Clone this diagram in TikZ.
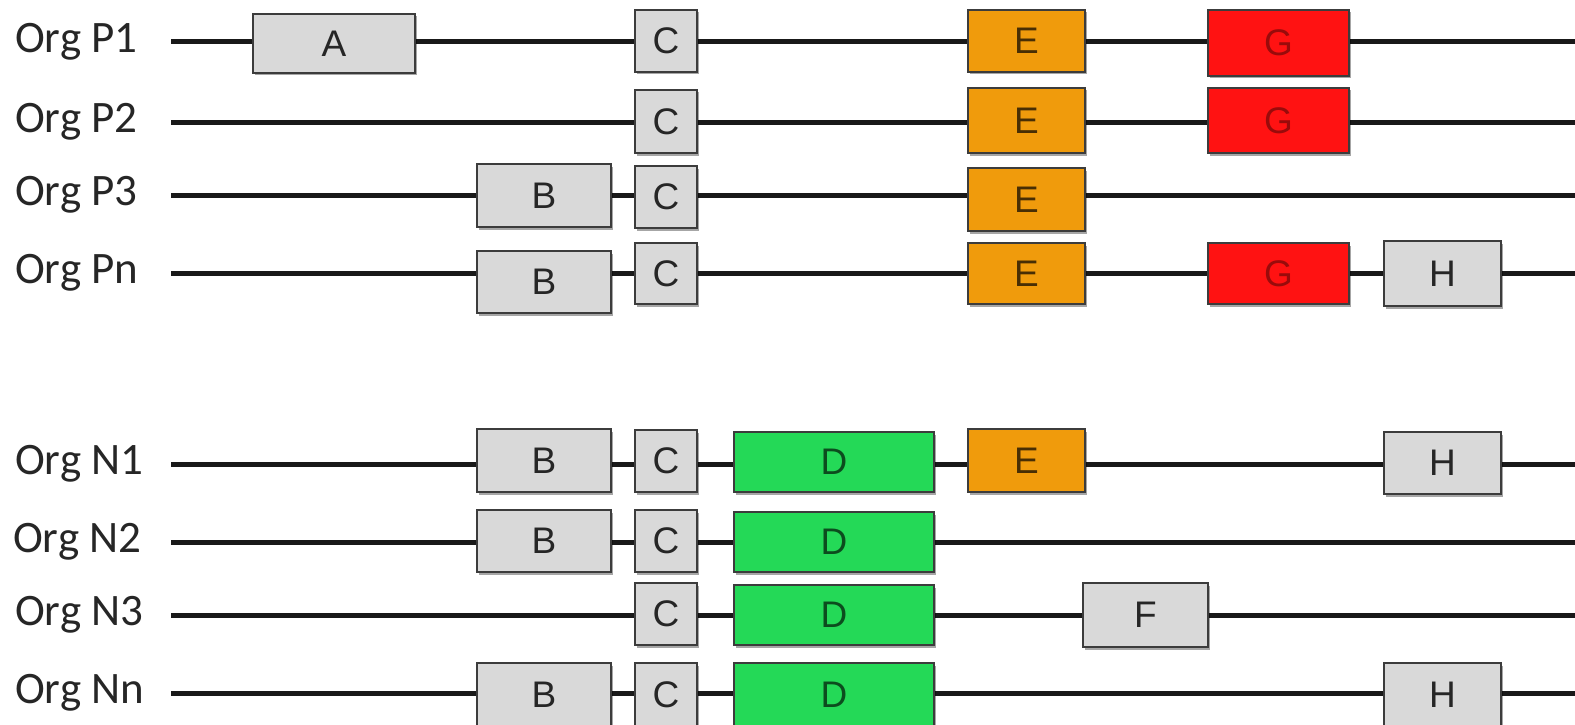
\documentclass[tikz,border=0pt]{standalone}
\usepackage{fontspec}
\setmainfont{Carlito}
\newfontfamily\genefont{Liberation Sans}
\usetikzlibrary{shadows,backgrounds}

\definecolor{genegreyfill}{HTML}{D9D9D9}
\definecolor{geneorangefill}{HTML}{F09B0C}
\definecolor{generedfill}{HTML}{FF1212}
\definecolor{genegreenfill}{HTML}{24D957}
\definecolor{geneedge}{HTML}{3C3C3C}

\tikzset{
  orglabel/.style={anchor=west, inner sep=0pt, font=\fontsize{45}{50}\selectfont, text=black!85},
  strand/.style={line width=5pt, black!90},
  gene/.style={draw=geneedge, line width=2.2pt, inner sep=0pt, outer sep=0pt,
    font=\genefont\fontsize{37}{40}\selectfont,
    drop shadow={opacity=0.35, shadow xshift=2pt, shadow yshift=-2.5pt, fill=black}},
  ggrey/.style={gene, fill=genegreyfill, text=black!85},
  gorange/.style={gene, fill=geneorangefill, text=black!70!geneorangefill},
  gred/.style={gene, fill=generedfill, text=black!40!generedfill},
  ggreen/.style={gene, fill=genegreenfill, text=black!65!genegreenfill},
}

% \genebox{name}{x1}{x2}{y1}{y2}{style}{text}
\newcommand\genebox[7]{%
  \node[#6, minimum width={#3-#2}, minimum height={#5-#4}] (#1)
    at ({(#2+#3)/2},{(#4+#5)/2}) {#7};}

\begin{document}
\begin{tikzpicture}[x=1pt,y=-1pt]
\useasboundingbox (0,0) rectangle (1575,725);

% ---------- Org P1
\node[orglabel] (lp1) at (15,42) {Org P1};
\coordinate (p1s) at (171,42); \coordinate (p1e) at (1576,42);
\genebox{p1a}{253}{415}{14}{73}{ggrey}{A}
\genebox{p1c}{635}{697}{10}{72}{ggrey}{C}
\genebox{p1e5}{968}{1085}{10}{72}{gorange}{E}
\genebox{p1g}{1208}{1349}{10}{76}{gred}{G}

% ---------- Org P2
\node[orglabel] (lp2) at (15,122) {Org P2};
\coordinate (p2s) at (171,122); \coordinate (p2e) at (1576,122);
\genebox{p2c}{635}{697}{90}{153}{ggrey}{C}
\genebox{p2e5}{968}{1085}{88}{153}{gorange}{E}
\genebox{p2g}{1208}{1349}{88}{153}{gred}{G}

% ---------- Org P3
\node[orglabel] (lp3) at (15,195) {Org P3};
\coordinate (p3s) at (171,195); \coordinate (p3e) at (1576,195);
\genebox{p3b}{477}{611}{164}{227}{ggrey}{B}
\genebox{p3c}{635}{697}{166}{228}{ggrey}{C}
\genebox{p3e5}{968}{1085}{168}{231}{gorange}{E}

% ---------- Org Pn
\node[orglabel] (lpn) at (15,273) {Org Pn};
\coordinate (pns) at (171,273); \coordinate (pne) at (1576,273);
\genebox{pnb}{477}{611}{251}{313}{ggrey}{B}
\genebox{pnc}{635}{697}{243}{304}{ggrey}{C}
\genebox{pne5}{968}{1085}{243}{304}{gorange}{E}
\genebox{png}{1208}{1349}{243}{304}{gred}{G}
\genebox{pnh}{1384}{1501}{241}{306}{ggrey}{H}

% ---------- Org N1
\node[orglabel] (ln1) at (15,464) {Org N1};
\coordinate (n1s) at (171,464); \coordinate (n1e) at (1576,464);
\genebox{n1b}{477}{611}{429}{492}{ggrey}{B}
\genebox{n1c}{635}{697}{430}{492}{ggrey}{C}
\genebox{n1d}{734}{934}{432}{492}{ggreen}{D}
\genebox{n1e5}{968}{1085}{429}{492}{gorange}{E}
\genebox{n1h}{1384}{1501}{432}{494}{ggrey}{H}

% ---------- Org N2
\node[orglabel] (ln2) at (13,542) {Org N2};
\coordinate (n2s) at (171,542); \coordinate (n2e) at (1576,542);
\genebox{n2b}{477}{611}{510}{572}{ggrey}{B}
\genebox{n2c}{635}{697}{510}{572}{ggrey}{C}
\genebox{n2d}{734}{934}{512}{572}{ggreen}{D}

% ---------- Org N3
\node[orglabel] (ln3) at (15,615) {Org N3};
\coordinate (n3s) at (171,615); \coordinate (n3e) at (1576,615);
\genebox{n3c}{635}{697}{583}{645}{ggrey}{C}
\genebox{n3d}{734}{934}{585}{645}{ggreen}{D}
\genebox{n3f}{1083}{1208}{583}{647}{ggrey}{F}

% ---------- Org Nn
\node[orglabel] (lnn) at (15,693) {Org Nn};
\coordinate (nns) at (171,693); \coordinate (nne) at (1576,693);
\genebox{nnb}{477}{611}{663}{726}{ggrey}{B}
\genebox{nnc}{635}{697}{663}{726}{ggrey}{C}
\genebox{nnd}{734}{934}{663}{726}{ggreen}{D}
\genebox{nnh}{1384}{1501}{663}{726}{ggrey}{H}

% ---------- strands between the genes
\begin{scope}[on background layer]
\draw[strand] (p1s) -- (p1a.west |- p1s) (p1a.east |- p1s) -- (p1c.west |- p1s)
  (p1c.east |- p1s) -- (p1e5.west |- p1s) (p1e5.east |- p1s) -- (p1g.west |- p1s)
  (p1g.east |- p1s) -- (p1e);
\draw[strand] (p2s) -- (p2c.west |- p2s) (p2c.east |- p2s) -- (p2e5.west |- p2s)
  (p2e5.east |- p2s) -- (p2g.west |- p2s) (p2g.east |- p2s) -- (p2e);
\draw[strand] (p3s) -- (p3b.west |- p3s) (p3b.east |- p3s) -- (p3c.west |- p3s)
  (p3c.east |- p3s) -- (p3e5.west |- p3s) (p3e5.east |- p3s) -- (p3e);
\draw[strand] (pns) -- (pnb.west |- pns) (pnb.east |- pns) -- (pnc.west |- pns)
  (pnc.east |- pns) -- (pne5.west |- pns) (pne5.east |- pns) -- (png.west |- pns)
  (png.east |- pns) -- (pnh.west |- pns) (pnh.east |- pns) -- (pne);
\draw[strand] (n1s) -- (n1b.west |- n1s) (n1b.east |- n1s) -- (n1c.west |- n1s)
  (n1c.east |- n1s) -- (n1d.west |- n1s) (n1d.east |- n1s) -- (n1e5.west |- n1s)
  (n1e5.east |- n1s) -- (n1h.west |- n1s) (n1h.east |- n1s) -- (n1e);
\draw[strand] (n2s) -- (n2b.west |- n2s) (n2b.east |- n2s) -- (n2c.west |- n2s)
  (n2c.east |- n2s) -- (n2d.west |- n2s) (n2d.east |- n2s) -- (n2e);
\draw[strand] (n3s) -- (n3c.west |- n3s) (n3c.east |- n3s) -- (n3d.west |- n3s)
  (n3d.east |- n3s) -- (n3f.west |- n3s) (n3f.east |- n3s) -- (n3e);
\draw[strand] (nns) -- (nnb.west |- nns) (nnb.east |- nns) -- (nnc.west |- nns)
  (nnc.east |- nns) -- (nnd.west |- nns) (nnd.east |- nns) -- (nnh.west |- nns)
  (nnh.east |- nns) -- (nne);
\end{scope}
\end{tikzpicture}
\end{document}
